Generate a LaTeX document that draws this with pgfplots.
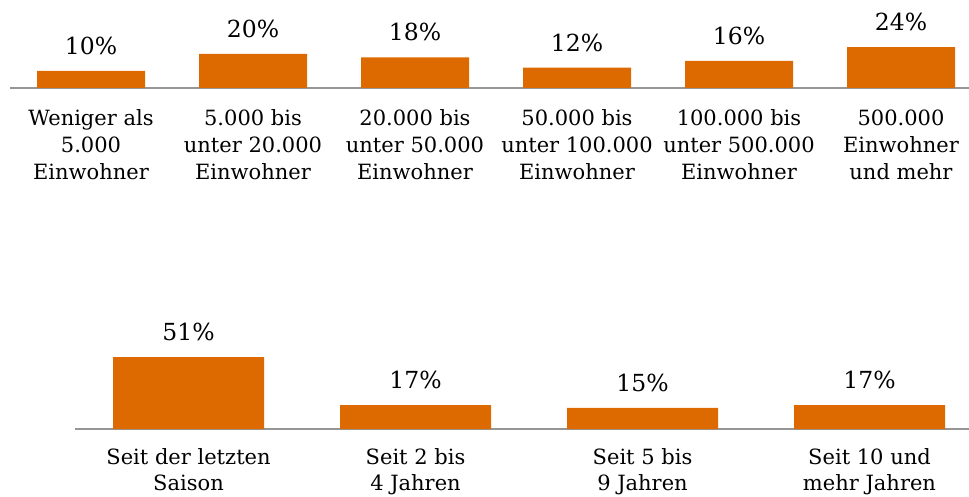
\documentclass[border=0pt]{standalone}
\usepackage{fontspec}
\setmainfont{DejaVu Serif}
\usepackage{pgfplots}
\pgfplotsset{compat=1.18}
\definecolor{barc}{RGB}{221,106,0}
\definecolor{axc}{RGB}{150,150,150}
\pgfplotsset{common/.style={
  axis x line*=bottom, axis y line=none, ymin=0, clip=false,
  xtick=data, major tick length=0,
  x axis line style={draw=axc, line width=1.5bp, -},
  ybar, bar shift=0pt,
  /pgf/number format/assume math mode=true,
  nodes near coords={\pgfmathprintnumber[fixed,precision=0]{\pgfplotspointmeta}\%},
  every node near coord/.append style={anchor=center, yshift=25bp, font=\fontsize{23.5bp}{28bp}\selectfont, text=black},
  xticklabel style={align=center, font=\fontsize{21bp}{27bp}\selectfont, text=black, yshift=-18.5bp},
}}
\begin{document}
\begin{tikzpicture}
\useasboundingbox (0,0) rectangle (969bp,497bp);
\begin{axis}[common, at={(10bp,409bp)}, anchor=south west,
  x=162bp, y=1.7bp, xmin=-0.5, xmax=5.42, ymax=30, bar width=108bp,
  xticklabels={{Weniger als\\5.000\\Einwohner},{5.000 bis\\unter 20.000\\Einwohner},{20.000 bis\\unter 50.000\\Einwohner},{50.000 bis\\unter 100.000\\Einwohner},{100.000 bis\\unter 500.000\\Einwohner},{500.000\\Einwohner\\und mehr}}]
\addplot[fill=barc, draw=none] coordinates {(0,10) (1,20) (2,18) (3,12) (4,16) (5,24)};
\end{axis}
\begin{axis}[common, at={(75bp,68bp)}, anchor=south west,
  x=227bp, y=1.41bp, xmin=-0.5, xmax=3.44, ymax=60, bar width=151bp,
  xticklabel style={yshift=2.5bp, font=\fontsize{21bp}{26bp}\selectfont},
  xticklabels={{Seit der letzten\\Saison},{Seit 2 bis\\4 Jahren},{Seit 5 bis\\9 Jahren},{Seit 10 und\\mehr Jahren}}]
\addplot[fill=barc, draw=none] coordinates {(0,51) (1,17) (2,15) (3,17)};
\end{axis}
\end{tikzpicture}
\end{document}
